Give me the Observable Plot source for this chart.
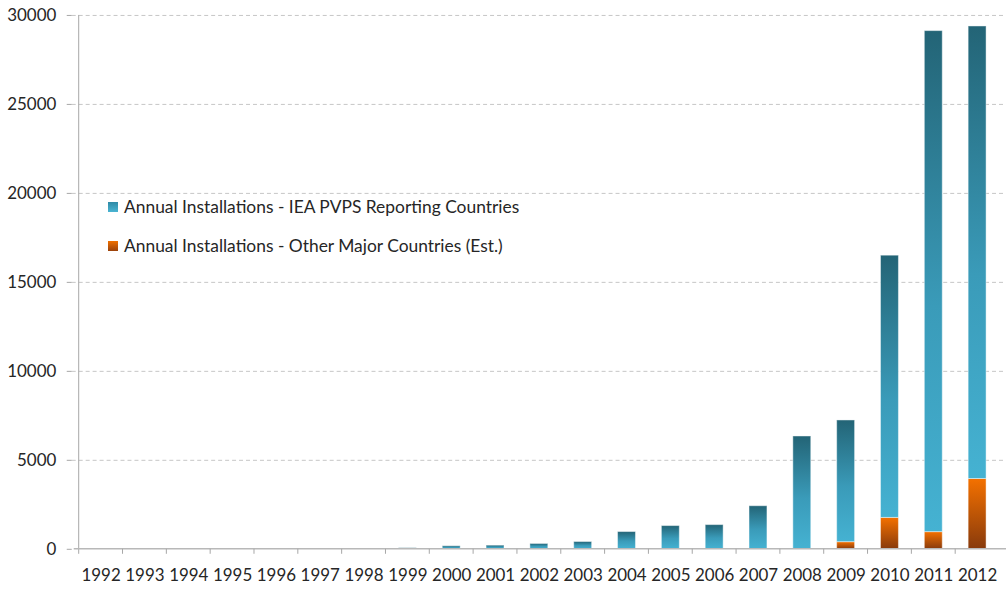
<!DOCTYPE html>
<html><head><meta charset="utf-8">
<script src="https://cdn.jsdelivr.net/npm/d3@7"></script>
<script src="https://cdn.jsdelivr.net/npm/@observablehq/plot@0.6"></script>
<style>
html,body{margin:0;padding:0;background:#fff;overflow:hidden;}
#wrap{position:relative;width:1006px;height:589px;overflow:hidden;font-family:Lato,"Open Sans",sans-serif;}
.leg{position:absolute;left:108px;font-size:17.4px;color:#262626;display:flex;align-items:center;white-space:nowrap;line-height:1;}
.leg .sw{width:10px;height:10px;margin-right:6px;}
</style>
</head><body>
<div id="wrap"></div>
<script>
const years = ["1992","1993","1994","1995","1996","1997","1998","1999","2000","2001","2002","2003","2004","2005","2006","2007","2008","2009","2010","2011","2012"];
const ieaValues = [10,12,15,18,22,28,35,60,170,205,300,410,970,1305,1360,2420,6340,6840,14735,28155,25430];
const otherValues = [0,0,0,0,0,0,0,0,0,0,0,0,0,0,0,0,0,400,1765,965,3950];
const seriesNames = ["Annual Installations - IEA PVPS Reporting Countries","Annual Installations - Other Major Countries (Est.)"];
const yTicks = [0,5000,10000,15000,20000,25000,30000];

const rows = [];
years.forEach((yr,i)=>{
  rows.push({year:yr, series:"other", value:otherValues[i], fill:"url(#gradOrange)"});
  rows.push({year:yr, series:"iea", value:ieaValues[i], fill:"url(#gradBlue)"});
});

const plot = Plot.plot({
  width: 1010, height: 589,
  marginLeft: 72, marginRight: 0, marginTop: 15, marginBottom: 38,
  style: {fontFamily: "Lato, 'Open Sans', sans-serif", fontSize: "17px", color: "#262626", background: "white", overflow: "visible"},
  x: {domain: years, paddingInner: 0.6, paddingOuter: 0.3, label: null},
  y: {domain: [0,30000], label: null},
  color: {type: "identity"},
  marks: [
    Plot.ruleY(yTicks.filter(v=>v>0), {stroke:"#c6c6c6", strokeDasharray:"4,3", strokeWidth:1}),
    Plot.barY(rows, Plot.stackY({x:"year", y:"value", z:"series", fill:"fill", stroke:"#ffffff", strokeOpacity:0.45, strokeWidth:1})),
    Plot.axisY({ticks: yTicks, tickFormat: "d", tickSize: 5, tickPadding: 11, stroke: "#a6a6a6", fill: "#262626", fontSize: 17}),
    Plot.axisX({tickSize: 0, tickPadding: 20, fill: "#262626", fontSize: 17})
  ]
});

const svg = d3.select(plot);
const defs = svg.insert("defs", ":first-child");
const gb = defs.append("linearGradient").attr("id","gradBlue").attr("x1",0).attr("y1",0).attr("x2",0).attr("y2",1);
gb.append("stop").attr("offset","0%").attr("stop-color","#236476");
gb.append("stop").attr("offset","55%").attr("stop-color","#3a9bb9");
gb.append("stop").attr("offset","100%").attr("stop-color","#45b2d2");
const go = defs.append("linearGradient").attr("id","gradOrange").attr("x1",0).attr("y1",0).attr("x2",0).attr("y2",1);
go.append("stop").attr("offset","0%").attr("stop-color","#f47100");
go.append("stop").attr("offset","100%").attr("stop-color","#883a0c");

// axis lines and category separators drawn from the plot's own scales
const xs = plot.scale("x"), ys = plot.scale("y");
const step = xs.step, bw = xs.bandwidth;
const y0 = ys.apply(0), yTop = ys.apply(30000);
const left = xs.apply(years[0]) - (step - bw)/2;
const g = svg.append("g").attr("stroke","#a6a6a6");
g.append("line").attr("x1",left).attr("x2",left).attr("y1",yTop).attr("y2",y0+5).attr("stroke-width",1);
g.append("line").attr("x1",left-5).attr("x2",1010).attr("y1",y0).attr("y2",y0).attr("stroke","#b8b8b8").attr("stroke-width",1.5);
years.forEach((yr,i)=>{
  if(i===0) return;
  const xb = xs.apply(yr) - (step - bw)/2;
  g.append("line").attr("x1",xb).attr("x2",xb).attr("y1",y0).attr("y2",y0+5);
});

const wrap = document.getElementById("wrap");
wrap.appendChild(plot);
const legColors = ["linear-gradient(#2f8aa6,#4ab4d2)","linear-gradient(#f07000,#9a420c)"];
const legTops = [198, 237];
seriesNames.forEach((name,i)=>{
  const d = document.createElement("div");
  d.className = "leg";
  d.style.top = legTops[i] + "px";
  d.innerHTML = `<div class="sw" style="background:${legColors[i]}"></div><span>${name}</span>`;
  wrap.appendChild(d);
});
</script>
</body></html>
